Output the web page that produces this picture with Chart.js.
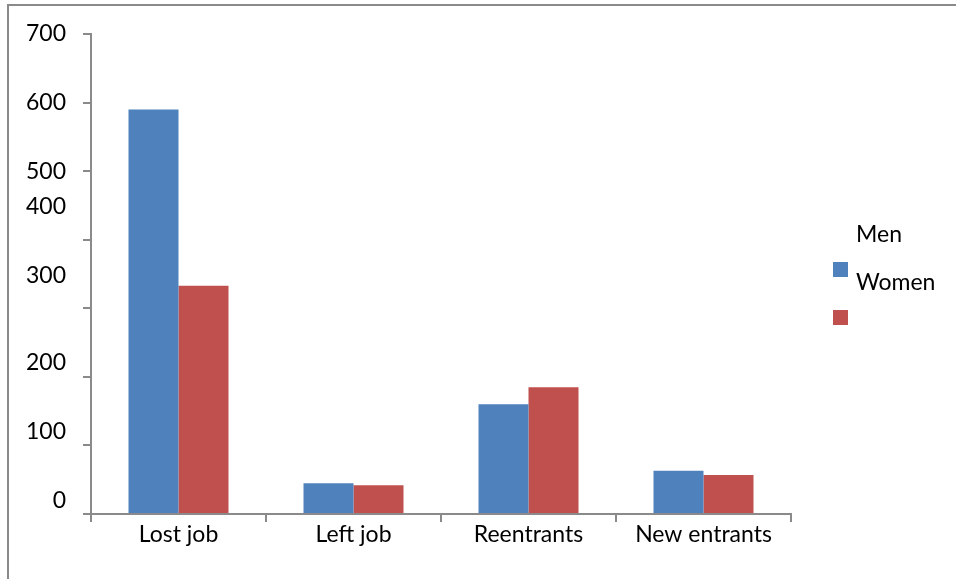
<!DOCTYPE html>
<html><head><meta charset="utf-8">
<script src="https://cdn.jsdelivr.net/npm/chart.js@4.4.1/dist/chart.umd.min.js"></script>
<style>
html,body{margin:0;padding:0;background:#fff;overflow:hidden}
#wrap{position:relative;width:956px;height:579px}
#frame{position:absolute;left:7px;top:4px;width:980px;height:600px;border-top:2px solid #8a8a8a;border-left:2px solid #8a8a8a;pointer-events:none}
canvas{position:absolute;left:0;top:0}
</style></head><body>
<div id="wrap"><canvas id="c" width="956" height="579"></canvas><div id="frame"></div></div>
<script>
const categories = ['Lost job', 'Left job', 'Reentrants', 'New entrants'];
const seriesNames = ['Men', 'Women'];
const menValues = [590, 45, 160, 63];
const womenValues = [333, 42, 185, 57];
const yTickValues = [0, 100, 200, 300, 400, 500, 600, 700];
const yTickLabels = ['700', '600', '500', '400', '300', '200', '100', '0'];
const yTickLabelAnchors = [700, 600, 500, 449, 348, 221, 120, 19];

const AXIS = '#8a8a8a';
const FONT = {family: 'Lato', size: 23};

const legendPlugin = {
  id: 'customLegend',
  afterDraw(chart) {
    const ctx = chart.ctx, ca = chart.chartArea;
    ctx.save();
    ctx.font = '23px Lato';
    ctx.textBaseline = 'middle';
    ctx.textAlign = 'left';
    const x0 = ca.right + 42;
    chart.data.datasets.forEach((ds, i) => {
      const y = ca.top + 228 + i * 48;
      ctx.fillStyle = ds.backgroundColor;
      ctx.fillRect(x0, y, 15, 15);
      ctx.fillStyle = '#000';
      ctx.fillText(ds.label, x0 + 23, y - 27);
    });
    ctx.restore();
  }
};

new Chart(document.getElementById('c'), {
  type: 'bar',
  data: {
    labels: categories,
    datasets: [
      {label: seriesNames[0], data: menValues, backgroundColor: '#4F81BD', yAxisID: 'y'},
      {label: seriesNames[1], data: womenValues, backgroundColor: '#C0504D', yAxisID: 'y'}
    ]
  },
  options: {
    responsive: false,
    animation: false,
    devicePixelRatio: 1,
    barPercentage: 1,
    categoryPercentage: 100 / 175,
    layout: {padding: {top: 34, right: 165, bottom: 0, left: 0}},
    plugins: {legend: {display: false}, tooltip: {enabled: false}},
    scales: {
      x: {
        grid: {display: true, drawOnChartArea: false, drawTicks: true, tickLength: 8, color: AXIS, lineWidth: 2, offset: true},
        border: {display: true, color: AXIS, width: 2},
        ticks: {font: FONT, color: '#000', padding: -1, maxRotation: 0, autoSkip: false},
        afterFit: s => { s.height = 65; }
      },
      y: {
        position: 'left', weight: 0, min: 0, max: 700,
        afterBuildTicks: s => { s.ticks = yTickValues.map(v => ({value: v})); },
        grid: {display: true, drawOnChartArea: false, drawTicks: true, tickLength: 8, color: AXIS, lineWidth: 2},
        border: {display: true, color: AXIS, width: 2},
        ticks: {display: false},
        afterFit: s => { s.width = 8; }
      },
      yLab: {
        position: 'left', weight: 1, min: 0, max: 700,
        afterBuildTicks: s => { s.ticks = yTickLabelAnchors.map(v => ({value: v})); },
        grid: {display: false, drawTicks: false},
        border: {display: false},
        ticks: {font: FONT, color: '#000', padding: 17, autoSkip: false, callback: (v, i) => yTickLabels[i]},
        afterFit: s => { s.width = 83; }
      }
    }
  },
  plugins: [legendPlugin]
});
</script>
</body></html>
